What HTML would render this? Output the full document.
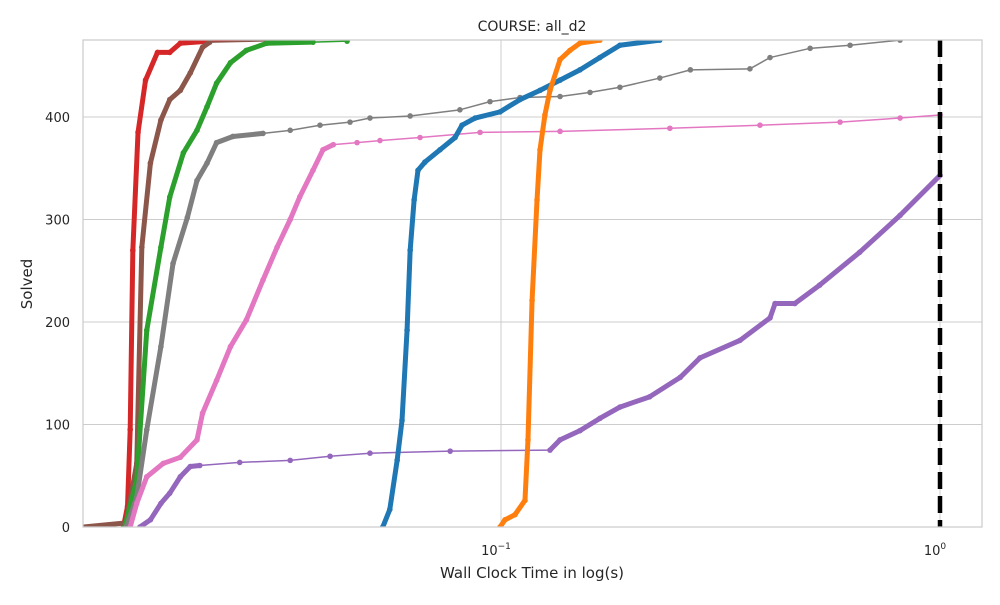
<!DOCTYPE html>
<html><head><meta charset="utf-8"><style>
body{margin:0;background:#fff;}
svg text{font-family:"DejaVu Sans","Liberation Sans",sans-serif;fill:#262626;}
</style></head><body>
<svg id="chart" width="1000" height="600" xmlns="http://www.w3.org/2000/svg">
<rect width="1000" height="600" fill="#fff"/>
<defs><clipPath id="clip"><rect x="83" y="40" width="899" height="487"/></clipPath></defs>
<g id="grid"></g>
<g id="series" clip-path="url(#clip)"></g>
<rect x="83" y="40" width="899" height="487" fill="none" stroke="#ccc" stroke-width="1.25"/>
<g id="ticks"></g>
<text x="532" y="31" text-anchor="middle" font-size="14">COURSE: all_d2</text>
<text x="532" y="578" text-anchor="middle" font-size="15">Wall Clock Time in log(s)</text>
<text transform="translate(32,284) rotate(-90)" text-anchor="middle" font-size="15">Solved</text>
</svg>
<script>
const yTicks=[0,100,200,300,400];
const xTickExps=[-1,0];
const timeout=[1.0];
const redT=[0.0112,0.0138,0.0141,0.0143,0.0145,0.0149,0.0155,0.0165,0.0176,0.0186,0.0217,0.03];
const redY=[0,0,20,95,270,385,436,463,463,472,474,475];
const brownT=[0.0112,0.0140,0.0148,0.0152,0.0159,0.0168,0.0176,0.0186,0.0196,0.0209,0.0217,0.0348];
const brownY=[0,4,62,273,355,397,417,426,443,468,473,475];
const greenT=[0.0112,0.0139,0.0148,0.0156,0.0168,0.0176,0.0189,0.0203,0.0214,0.0225,0.0242,0.0263,0.0293,0.0373,0.0446];
const greenY=[0,0,46,192,273,322,365,387,410,433,453,465,472,473,474];
const grayT=[0.0112,0.0140,0.0148,0.0156,0.0168,0.0179,0.0193,0.0203,0.0214,0.0225,0.0245,0.0287,0.0331,0.0387,0.0453,0.0503,0.0621,0.0806,0.0944,0.1105,0.1363,0.1595,0.1866,0.230,0.270,0.369,0.410,0.506,0.624,0.811];
const grayY=[0,0,29,95,176,257,302,338,355,375,381,384,387,392,395,399,401,407,415,419,420,424,429,438,446,447,458,467,470,475];
const pinkT=[0.0112,0.0143,0.0148,0.0156,0.0170,0.0186,0.0203,0.0209,0.0225,0.0242,0.0263,0.0287,0.0309,0.0331,0.0348,0.0373,0.0393,0.0415,0.0470,0.0530,0.0654,0.0896,0.1363,0.2425,0.389,0.592,0.811,1.0];
const pinkY=[0,0,23,49,62,68,85,111,143,176,202,241,273,300,322,348,368,373,375,377,380,385,386,389,392,395,399,402];
const purpleT=[0.0112,0.01505,0.0159,0.0168,0.0176,0.0186,0.0196,0.0206,0.0254,0.0331,0.0408,0.0503,0.0766,0.1293,0.1363,0.1513,0.168,0.1866,0.218,0.256,0.284,0.350,0.410,0.421,0.467,0.532,0.656,0.811,1.0];
const purpleY=[0,0,7,23,33,49,59,60,63,65,69,72,74,75,85,94,106,117,127,146,165,182,204,218,218,236,268,304,343];
const blueT=[0.0112,0.0538,0.0558,0.0580,0.0595,0.0611,0.0621,0.0634,0.0647,0.0671,0.0726,0.0786,0.0815,0.0873,0.0995,0.1105,0.1227,0.1363,0.1513,0.168,0.1866,0.230];
const blueY=[0,0,17,65,104,192,270,319,348,356,368,380,392,399,405,417,426,436,446,458,470,475];
const orangeT=[0.0112,0.0995,0.1021,0.1076,0.1134,0.1152,0.1177,0.1208,0.1227,0.1259,0.1293,0.1363,0.1436,0.1513,0.168];
const orangeY=[0,0,7,12,26,85,221,319,368,402,426,456,465,472,475];

const NS="http://www.w3.org/2000/svg";
const X=t=>501+(Math.log10(t)+1)*439;
const Y=v=>527-v*1.025;
function mk(tag,attrs,parent){const e=document.createElementNS(NS,tag);for(const k in attrs)e.setAttribute(k,attrs[k]);parent.appendChild(e);return e;}
const grid=document.getElementById('grid'),ticks=document.getElementById('ticks'),ser=document.getElementById('series');
yTicks.forEach(v=>{
  const l=mk('line',{x1:83,x2:982,y1:Y(v),y2:Y(v),stroke:'#ccc','stroke-width':1},grid);
  
  
  const t=mk('text',{x:70,y:Y(v)+5,'text-anchor':'end','font-size':13},ticks);
  t.textContent=v;
  
  
});
xTickExps.forEach(e=>{
  const x=X(Math.pow(10,e));
  const l=mk('line',{x1:x,x2:x,y1:40,y2:527,stroke:'#ccc','stroke-width':1},grid);
  
  
  const t=mk('text',{x:x-5,y:555,'text-anchor':'middle','font-size':13},ticks);
  t.textContent='10';
  const s=mk('tspan',{dy:-6,'font-size':9},t);
  s.textContent=String(e).replace('-','\u2212');
  
  
});
// style: time range (seconds) in which each series' points are sparse (drawn thin)
const all=[
 ['red',redT,redY,'#d62728',[0.02,9]],
 ['brown',brownT,brownY,'#8c564b',[0.0215,9]],
 ['green',greenT,greenY,'#2ca02c',[0.03,9]],
 ['gray',grayT,grayY,'#7f7f7f',[0.0286,9]],
 ['pink',pinkT,pinkY,'#e377c2',[0.0414,9]],
 ['purple',purpleT,purpleY,'#9467bd',[0.0205,0.13]],
 ['blue',blueT,blueY,'#1f77b4',[0.2,9]],
 ['orange',orangeT,orangeY,'#ff7f0e',[9,9]]];
all.forEach(([name,T,V,c,sp])=>{
  const g=mk('g',{},ser);
  
  
  for(let i=1;i<T.length;i++){
    const x1=X(T[i-1]),y1=Y(V[i-1]),x2=X(T[i]),y2=Y(V[i]);
    let w;
    if(V[i-1]===0&&V[i]===0) w=1;
    else if(T[i-1]>=sp[0]&&T[i]<=sp[1]) w=1.5;
    else w=5;
    mk('line',{x1,y1,x2,y2,stroke:c,'stroke-width':w,'stroke-linecap':'round'},g);
  }
  for(let i=1;i<T.length;i++){
    const p=mk('circle',{cx:X(T[i]),cy:Y(V[i]),r:2.8,fill:c},g);
    
    
  }
});
timeout.forEach(t=>{
  const l=mk('line',{x1:X(t),x2:X(t),y1:40,y2:527,stroke:'#000','stroke-width':4.5,'stroke-dasharray':'17,7'},ser);
  
  
});
</script>
</body></html>
